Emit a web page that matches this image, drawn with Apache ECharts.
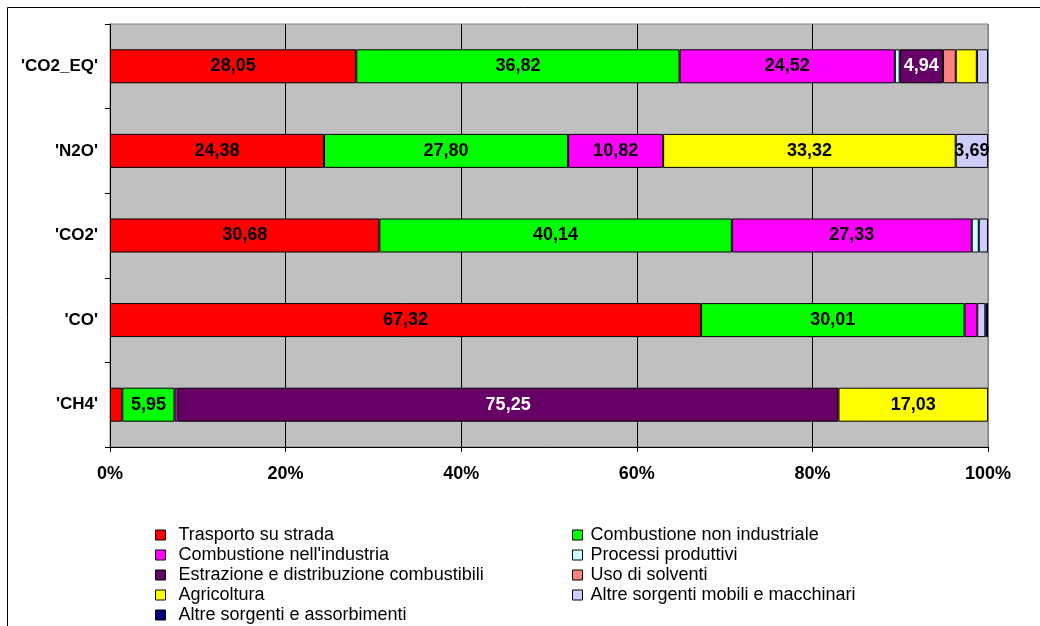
<!DOCTYPE html>
<html>
<head>
<meta charset="utf-8">
<script src="https://cdn.jsdelivr.net/npm/echarts@6/dist/echarts.min.js"></script>
<style>
  html, body { margin: 0; padding: 0; background: #fff; }
  #chart { width: 1040px; height: 626px; }
</style>
</head>
<body>
<div id="chart"></div>
<script>
// Gas categories, top to bottom
const categories = ["'CO2_EQ'", "'N2O'", "'CO2'", "'CO'", "'CH4'"];

// Share (%) of each emission source, per gas (same order as categories)
const trasportoSuStrada       = [28.05, 24.38, 30.68, 67.32, 1.40];
const combustioneNonInd       = [36.82, 27.80, 40.14, 30.01, 5.95];
const combustioneIndustria    = [24.52, 10.82, 27.33, 1.45, 0.37];
const processiProduttivi      = [0.55, null, 0.80, null, null];
const estrazioneDistribuzione = [4.94, null, null, null, 75.25];
const usoSolventi             = [1.45, null, null, null, null];
const agricoltura             = [2.40, 33.32, null, null, 17.03];
const altreMobili             = [1.27, 3.69, 1.05, 0.92, null];
const altreAssorbimenti       = [null, null, null, 0.30, null];

const xTicks = [0, 20, 40, 60, 80, 100];

const seriesDefs = [
  { name: 'Trasporto su strada', data: trasportoSuStrada, color: '#FF0000' },
  { name: 'Combustione non industriale', data: combustioneNonInd, color: '#00FF00' },
  { name: "Combustione nell'industria", data: combustioneIndustria, color: '#FF00FF' },
  { name: 'Processi produttivi', data: processiProduttivi, color: '#CCFFFF' },
  { name: 'Estrazione e distribuzione combustibili', data: estrazioneDistribuzione, color: '#660066', labelColor: '#FFFFFF' },
  { name: 'Uso di solventi', data: usoSolventi, color: '#FF8080' },
  { name: 'Agricoltura', data: agricoltura, color: '#FFFF00' },
  { name: 'Altre sorgenti mobili e macchinari', data: altreMobili, color: '#CCCCFF' },
  { name: 'Altre sorgenti e assorbimenti', data: altreAssorbimenti, color: '#000080' }
];

const FONT = 'Liberation Sans, Arial, sans-serif';

const series = seriesDefs.map(s => ({
  name: s.name,
  type: 'bar',
  stack: 'total',
  barWidth: 34,
  data: s.data,
  itemStyle: { color: s.color, borderColor: '#000', borderWidth: 1 },
  label: {
    show: true,
    position: 'inside',
    color: s.labelColor || '#000',
    fontFamily: FONT,
    fontWeight: 'bold',
    fontSize: 18,
    formatter: p => (p.value != null && p.value >= 3.5) ? p.value.toFixed(2).replace('.', ',') : ''
  },
  emphasis: { disabled: true }
}));

const leftNames = ['Trasporto su strada', "Combustione nell'industria", 'Estrazione e distribuzione combustibili', 'Agricoltura', 'Altre sorgenti e assorbimenti'];
const rightNames = ['Combustione non industriale', 'Processi produttivi', 'Uso di solventi', 'Altre sorgenti mobili e macchinari'];

function legendAt(names, left, pad) {
  return {
    orient: 'vertical',
    left: left,
    top: 526,
    padding: 0,
    itemWidth: 10,
    itemHeight: 10,
    itemGap: 2,
    icon: 'rect',
    selectedMode: false,
    data: names,
    itemStyle: { borderColor: '#000', borderWidth: 1 },
    textStyle: { fontFamily: FONT, fontSize: 18, color: '#000', lineHeight: 18, padding: [0, 0, 0, pad] }
  };
}

const chart = echarts.init(document.getElementById('chart'), null, { renderer: 'canvas' });
chart.setOption({
  animation: false,
  backgroundColor: '#fff',
  graphic: [{
    type: 'rect',
    shape: { x: 7.5, y: 7.5, width: 1100, height: 700 },
    style: { fill: 'none', stroke: '#000', lineWidth: 1 },
    silent: true
  }],
  grid: {
    left: 110, right: 52, top: 24, bottom: 179,
    show: true,
    backgroundColor: '#C0C0C0',
    borderColor: '#808080',
    borderWidth: 1
  },
  legend: [legendAt(leftNames, 155, 8), legendAt(rightNames, 572, 3)],
  xAxis: {
    type: 'value',
    min: xTicks[0],
    max: xTicks[xTicks.length - 1],
    interval: 20,
    axisLine: { show: true, lineStyle: { color: '#000', width: 1 } },
    axisTick: { show: true, length: 5, lineStyle: { color: '#000' } },
    splitLine: { show: true, lineStyle: { color: ['#000', '#000', '#000', '#000', '#000', '#808080'], width: 1 } },
    axisLabel: {
      margin: 18,
      fontFamily: FONT,
      fontWeight: 'bold',
      fontSize: 18,
      color: '#000',
      formatter: '{value}%'
    }
  },
  yAxis: {
    type: 'category',
    inverse: true,
    data: categories,
    axisLine: { show: true, lineStyle: { color: '#000', width: 1 } },
    axisTick: { show: true, length: 5, lineStyle: { color: '#000' } },
    axisLabel: {
      margin: 12,
      fontFamily: FONT,
      fontWeight: 'bold',
      fontSize: 17,
      color: '#000'
    }
  },
  series: series
});
</script>
</body>
</html>
